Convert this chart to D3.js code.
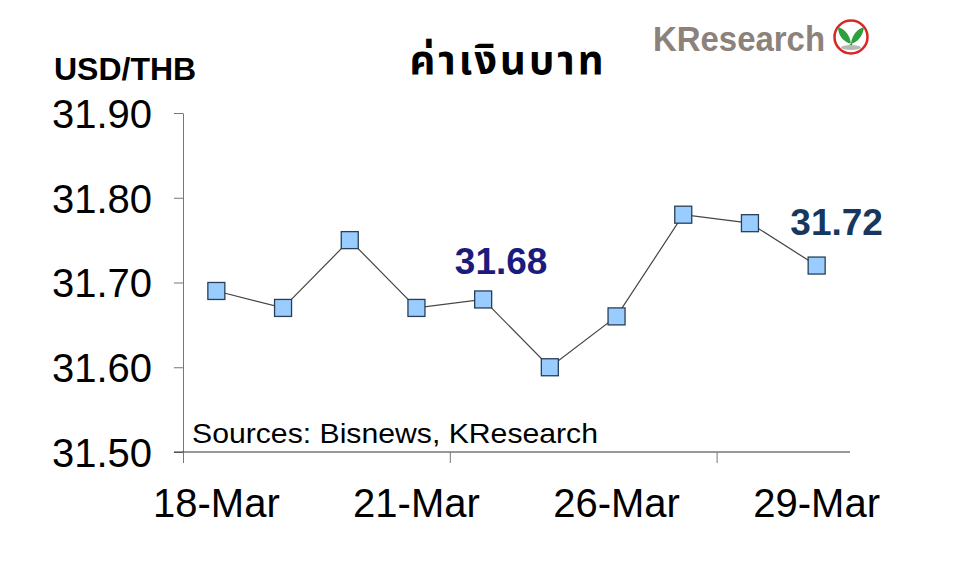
<!DOCTYPE html>
<html>
<head>
<meta charset="utf-8">
<script src="https://cdn.jsdelivr.net/npm/d3@7"></script>
<style>
  body { margin: 0; background: #fff; }
  svg { display: block; font-family: Arial, "Liberation Sans", sans-serif; }
</style>
</head>
<body>
<div id="chart"></div>
<script>
(function(d3) {
'use strict';

var dates = ['18-Mar', '19-Mar', '20-Mar', '21-Mar', '22-Mar', '25-Mar', '26-Mar', '27-Mar', '28-Mar', '29-Mar'];
var rates = [31.69, 31.67, 31.75, 31.67, 31.68, 31.60, 31.66, 31.78, 31.77, 31.72];
var yTicks = [31.50, 31.60, 31.70, 31.80, 31.90];
var xLabels = ['18-Mar', '21-Mar', '26-Mar', '29-Mar'];
var xTickMarks = ['18-Mar', '22-Mar', '28-Mar'];
var callouts = [
  { date: '22-Mar', value: 31.68, color: '#1b1b7d', dx: 18, dy: -25 },
  { date: '29-Mar', value: 31.72, color: '#17375e', dx: 20, dy: -31 }
];

var width = 960;
var height = 570;

var x = d3.scaleBand()
	.domain(dates)
	.range([183, 850])
	.padding(0);

var y = d3.scaleLinear()
	.domain([31.50, 31.90])
	.range([452, 113]);

var svg = d3.select('#chart')
	.append('svg')
	.attr('width', width)
	.attr('height', height);

// y axis
var yAxis = d3.axisLeft(y)
	.tickValues(yTicks)
	.tickFormat(d3.format('.2f'))
	.tickSize(9)
	.tickSizeOuter(0)
	.tickPadding(22);

var gy = svg.append('g')
	.attr('transform', 'translate(183,0)')
	.call(yAxis);
gy.select('.domain').attr('stroke', '#777');
gy.selectAll('.tick line').attr('stroke', '#777');
gy.selectAll('.tick text')
	.attr('fill', '#000')
	.style('font-size', '40px')
	.attr('dy', '0.36em');

// x axis line
svg.append('line')
	.attr('x1', 174).attr('x2', 850)
	.attr('y1', y(31.50)).attr('y2', y(31.50))
	.attr('stroke', '#333');

// x tick marks at category boundaries
svg.selectAll('.xmark')
	.data(xTickMarks)
	.enter().append('line')
	.attr('class', 'xmark')
	.attr('x1', function(d) {return x(d) + 0.5;})
	.attr('x2', function(d) {return x(d) + 0.5;})
	.attr('y1', y(31.50))
	.attr('y2', y(31.50) + 11)
	.attr('stroke', '#777');

// x labels
var xAxis = d3.axisBottom(x)
	.tickValues(xLabels)
	.tickSize(0)
	.tickPadding(37);

var gx = svg.append('g')
	.attr('transform', 'translate(0,' + y(31.50) + ')')
	.call(xAxis);
gx.select('.domain').remove();
gx.selectAll('.tick text')
	.attr('fill', '#000')
	.style('font-size', '40px');

// line
var line = d3.line()
	.x(function(d, i) {return x(dates[i]) + x.bandwidth() / 2;})
	.y(function(d) {return y(d);});

svg.append('path')
	.datum(rates)
	.attr('d', line)
	.attr('fill', 'none')
	.attr('stroke', '#444')
	.attr('stroke-width', 1.2);

// markers
var ms = 17;
svg.selectAll('.marker')
	.data(rates)
	.enter().append('rect')
	.attr('class', 'marker')
	.attr('x', function(d, i) {return x(dates[i]) + x.bandwidth() / 2 - ms / 2;})
	.attr('y', function(d) {return y(d) - ms / 2;})
	.attr('width', ms)
	.attr('height', ms)
	.attr('fill', '#99ccff')
	.attr('stroke', '#2a3f55')
	.attr('stroke-width', 1.3);

// callouts
svg.selectAll('.callout')
	.data(callouts)
	.enter().append('text')
	.attr('class', 'callout')
	.attr('x', function(d) {return x(d.date) + x.bandwidth() / 2 + d.dx;})
	.attr('y', function(d) {return y(d.value) + d.dy;})
	.attr('text-anchor', 'middle')
	.attr('fill', function(d) {return d.color;})
	.style('font-size', '37px')
	.style('font-weight', 'bold')
	.text(function(d) {return d.value.toFixed(2);});

// titles
svg.append('text')
	.attr('x', 54).attr('y', 80)
	.style('font-size', '32px')
	.style('font-weight', 'bold')
	.text('USD/THB');

svg.append('text')
	.attr('x', 508).attr('y', 74)
	.attr('text-anchor', 'middle')
	.style('font-size', '40px')
	.style('letter-spacing', '3px')
	.style('font-weight', 'bold')
	.style('font-family', '"Noto Sans Thai", "Noto Sans", Tahoma, sans-serif')
	.text('ค่าเงินบาท');

svg.append('text')
	.attr('x', 192).attr('y', 443)
	.style('font-size', '28px')
	.attr('textLength', 406)
	.attr('lengthAdjust', 'spacingAndGlyphs')
	.attr('fill', '#000')
	.text('Sources: Bisnews, KResearch');

// logo
var logo = svg.append('g');
logo.append('text')
	.attr('x', 653).attr('y', 51)
	.attr('fill', '#8c827b')
	.style('font-size', '35px')
	.style('font-weight', 'bold')
	.attr('textLength', 172)
	.attr('lengthAdjust', 'spacingAndGlyphs')
	.text('KResearch');
logo.append('circle')
	.attr('cx', 851).attr('cy', 37).attr('r', 16.5)
	.attr('fill', '#fff')
	.attr('stroke', '#d42a24')
	.attr('stroke-width', 2.5);
logo.append('path')
	.attr('d', 'M851,44 C850,35 845,29 838,27 C838,36 844,42 851,44 Z M851,44 C852,34 858,29 864,27 C863,37 857,42 851,44 Z M849.8,43 L852.2,43 L852.2,47 L849.8,47 Z')
	.attr('fill', '#2e9e3e');
logo.append('ellipse')
	.attr('cx', 851).attr('cy', 47.5).attr('rx', 10).attr('ry', 2.5)
	.attr('fill', '#b8b8b8');

})(window.d3);
</script>
</body>
</html>
